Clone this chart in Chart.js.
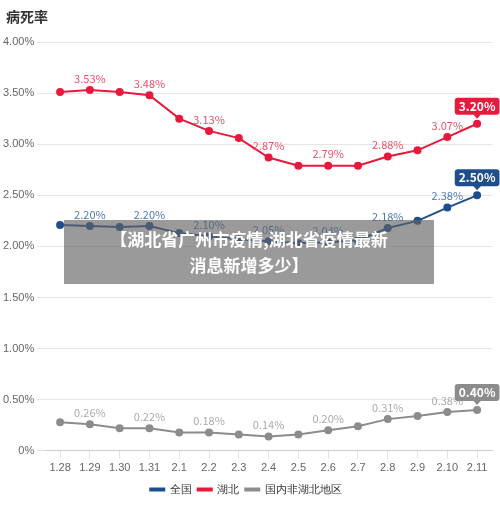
<!DOCTYPE html>
<html><head><meta charset="utf-8">
<script src="https://cdn.jsdelivr.net/npm/chart.js@4/dist/chart.umd.min.js"></script>
<style>
body{margin:0;background:#fff;font-family:"Noto Sans CJK SC",sans-serif}
#wrap{position:relative;width:500px;height:505px}
#title{position:absolute;left:6px;top:6px;font-size:14px;font-weight:bold;color:#333}
#ov{position:absolute;left:64px;top:220px;width:370px;height:64px;background:rgba(100,100,100,0.65);color:#fff;font-weight:bold;font-size:17px;text-align:center;line-height:26px;padding-top:6px;box-sizing:border-box}
</style></head><body>
<div id="wrap">
<div id="title">病死率</div>
<canvas id="c" width="500" height="505"></canvas>
<div id="ov">【湖北省广州市疫情,湖北省疫情最新<br>消息新增多少】</div>
</div>
<script>
const categories=["1.28","1.29","1.30","1.31","2.1","2.2","2.3","2.4","2.5","2.6","2.7","2.8","2.9","2.10","2.11"];
const national=[2.21,2.20,2.19,2.20,2.13,2.10,2.07,2.05,2.03,2.04,2.06,2.18,2.25,2.38,2.50];
const hubei=[3.51,3.53,3.51,3.48,3.25,3.13,3.06,2.87,2.79,2.79,2.79,2.88,2.94,3.07,3.20];
const others=[0.28,0.26,0.22,0.22,0.18,0.18,0.16,0.14,0.16,0.20,0.24,0.31,0.34,0.38,0.40];
const labelIdx=[1,3,5,7,9,11,13];
const labelPlugin={id:'lbl',afterDatasetsDraw(ch){
 const ctx=ch.ctx;
 ch.data.datasets.forEach((ds,di)=>{
  const meta=ch.getDatasetMeta(di);
  ctx.font='11px "Noto Sans CJK SC",sans-serif';ctx.textAlign='center';ctx.textBaseline='bottom';
  labelIdx.forEach(i=>{const p=meta.data[i];ctx.fillStyle=ds.labelColor;ctx.fillText(ds.data[i].toFixed(2)+'%',p.x,p.y-6);});
  const i=ds.data.length-1,p=meta.data[i];
  const t=ds.data[i].toFixed(2)+'%';ctx.font='bold 12px "Noto Sans CJK SC",sans-serif';
  const w=ctx.measureText(t).width+8;
  ctx.fillStyle=ds.borderColor;
  ctx.beginPath();ctx.roundRect(p.x-w/2,p.y-26,w,17,3);ctx.fill();
  ctx.beginPath();ctx.moveTo(p.x-4,p.y-9.5);ctx.lineTo(p.x+4,p.y-9.5);ctx.lineTo(p.x,p.y-5);ctx.fill();
  ctx.fillStyle='#fff';ctx.textBaseline='middle';ctx.fillText(t,p.x,p.y-17.5);
 });
}};
function ds(l,d,c,lc){return {label:l,data:d,borderColor:c,backgroundColor:c,labelColor:lc,borderWidth:2,pointRadius:3,pointBackgroundColor:c,tension:0};}
new Chart(document.getElementById('c'),{type:'line',
data:{labels:categories,datasets:[ds('全国',national,'#1f4e8c','#4a78b0'),ds('湖北',hubei,'#e8193c','#e8506a'),ds('国内非湖北地区',others,'#8c8c8c','#aaaaaa')]},
options:{responsive:false,animation:false,layout:{padding:{top:42,right:8,left:0,bottom:0}},
plugins:{legend:{position:'bottom',labels:{boxWidth:14,boxHeight:2,padding:6,font:{size:11},color:'#333'}},tooltip:{enabled:false}},
scales:{y:{min:0,max:4,ticks:{stepSize:0.5,callback:v=>v===0?'0%':v.toFixed(2)+'%',color:'#666',font:{size:11}},grid:{color:'#e5e5e5'},border:{display:false}},
x:{offset:true,ticks:{color:'#666',font:{size:11}},grid:{display:true,color:'#e5e5e5',drawOnChartArea:false},border:{color:'#ccc'}}}},
plugins:[labelPlugin]});
</script></body></html>
